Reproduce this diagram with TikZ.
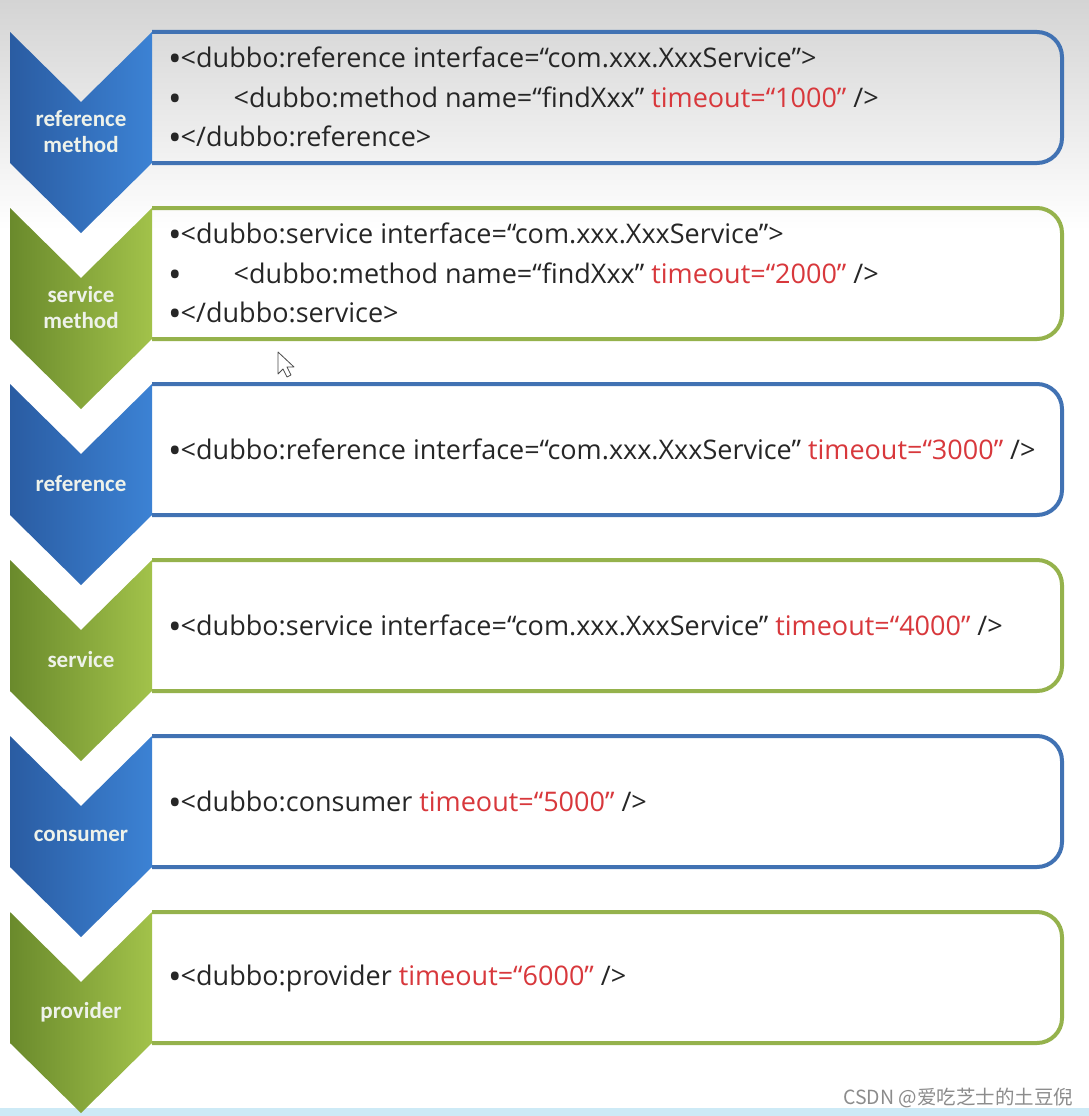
\documentclass[tikz,border=0pt]{standalone}
\usepackage{fontspec}
\setmainfont{Open Sans}
\newfontfamily\labfont{Carlito}
\newfontfamily\cjk{Noto Sans CJK SC}
\definecolor{bgtop}{HTML}{D4D4D4}
\definecolor{bluedark}{HTML}{2A5CA2}
\definecolor{bluelight}{HTML}{3C82D4}
\definecolor{greendark}{HTML}{6A8A2C}
\definecolor{greenlight}{HTML}{A2C24A}
\definecolor{blueline}{HTML}{4172B3}
\definecolor{greenline}{HTML}{95B24C}
\definecolor{txt}{HTML}{262626}
\definecolor{red}{HTML}{D8383C}
\definecolor{labc}{HTML}{EEF2EA}
\definecolor{band}{HTML}{CDEAF6}
\tikzset{
  chevblue/.style={left color=bluedark, right color=bluelight},
  chevgreen/.style={left color=greendark, right color=greenlight},
  boxblue/.style={draw=blueline, line width=4pt, rounded corners=25pt},
  boxgreen/.style={draw=greenline, line width=4pt, rounded corners=25pt},
  code/.style={anchor=west, inner sep=0pt, yshift=-2pt, font=\fontsize{27}{30}\selectfont, text=txt},
  lab/.style={inner sep=0pt, align=center, font=\labfont\bfseries\fontsize{23}{26}\selectfont, text=labc},
}
\newcommand{\red}[1]{\textcolor{red}{#1}}
\newcommand{\bul}{\raisebox{-4pt}{\fontsize{36}{30}\selectfont •}\kern-1pt}
\begin{document}
\begin{tikzpicture}[x=1pt,y=-1pt]
\useasboundingbox (0,0) rectangle (1089,1116);
\fill[white] (0,0) rectangle (1089,1116);
\shade[top color=bgtop, bottom color=white] (0,0) rectangle (1089,230);
\fill[band] (0,1108) rectangle (1089,1116);
% boxes
\draw[boxblue]  (152,32)  -- (1062,32)  -- (1062,163)  -- (152,163);
\draw[boxgreen] (152,208) -- (1062,208) -- (1062,339)  -- (152,339);
\draw[boxblue]  (152,384) -- (1062,384) -- (1062,515)  -- (152,515);
\draw[boxgreen] (152,560) -- (1062,560) -- (1062,691)  -- (152,691);
\draw[boxblue]  (152,736) -- (1062,736) -- (1062,867)  -- (152,867);
\draw[boxgreen] (152,912) -- (1062,912) -- (1062,1043) -- (152,1043);
% chevrons
\shade[chevblue]  (10,32)  -- (81,102) -- (152,32)  -- (152,163)  -- (81,233)  -- (10,163)  -- cycle;
\shade[chevgreen] (10,208) -- (81,278) -- (152,208) -- (152,339)  -- (81,409)  -- (10,339)  -- cycle;
\shade[chevblue]  (10,384) -- (81,454) -- (152,384) -- (152,515)  -- (81,585)  -- (10,515)  -- cycle;
\shade[chevgreen] (10,560) -- (81,630) -- (152,560) -- (152,691)  -- (81,761)  -- (10,691)  -- cycle;
\shade[chevblue]  (10,736) -- (81,806) -- (152,736) -- (152,867)  -- (81,937)  -- (10,867)  -- cycle;
\shade[chevgreen] (10,912) -- (81,982) -- (152,912) -- (152,1043) -- (81,1113) -- (10,1043) -- cycle;
% labels
\node[lab] (l1) at (81,132) {reference\\method};
\node[lab] (l2) at (81,308) {service\\method};
\node[lab] (l3) at (81,484) {reference};
\node[lab] (l4) at (81,660) {service};
\node[lab] (l5) at (81,836) {consumer};
\node[lab] (l6) at (81,1012) {provider};
% code texts
\node[code] (t1a) at (168,57) {\bul<dubbo:reference interface=“com.xxx.XxxService”>};
\node[code] (t1b) at (168,97) {\bul\hspace{53pt}<dubbo:method name=“findXxx” \red{timeout=“1000”} />};
\node[code] (t1c) at (168,136) {\bul</dubbo:reference>};
\node[code] (t2a) at (168,233) {\bul<dubbo:service interface=“com.xxx.XxxService”>};
\node[code] (t2b) at (168,273) {\bul\hspace{53pt}<dubbo:method name=“findXxx” \red{timeout=“2000”} />};
\node[code] (t2c) at (168,312) {\bul</dubbo:service>};
\node[code] (t3) at (168,449) {\bul<dubbo:reference interface=“com.xxx.XxxService” \red{timeout=“3000”} />};
\node[code] (t4) at (168,625) {\bul<dubbo:service interface=“com.xxx.XxxService” \red{timeout=“4000”} />};
\node[code] (t5) at (168,801) {\bul<dubbo:consumer \red{timeout=“5000”} />};
\node[code] (t6) at (168,976) {\bul<dubbo:provider \red{timeout=“6000”} />};
% cursor
\draw[black!70, fill=white, line width=0.8pt, line join=round] (278,352) -- (278,374) -- (283,369) -- (287,377) -- (291,375) -- (287,367) -- (294,367) -- cycle;
% watermark
\node[anchor=base west, inner sep=0pt, text=black!45, font=\cjk\fontsize{19.5}{22}\selectfont] (wm) at (843,1104) {CSDN @爱吃芝士的土豆倪};
\end{tikzpicture}
\end{document}
